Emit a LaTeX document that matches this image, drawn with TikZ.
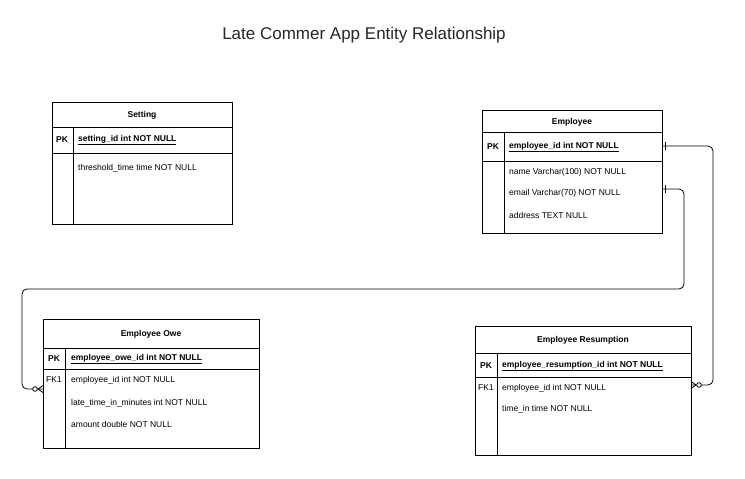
\documentclass[tikz,border=0pt]{standalone}
\usepackage{fontspec}
\setmainfont{Liberation Sans}
\usepackage{tikz}
\usetikzlibrary{calc}
\tikzset{
	entitybox/.style={draw, line width=0.9pt, anchor=north west, inner sep=0pt},
	tabletitle/.style={font=\fontsize{8.5}{10}\selectfont\bfseries},
	keylabel/.style={font=\fontsize{8.5}{10}\selectfont},
	field/.style={anchor=west, inner sep=0pt, font=\fontsize{8.5}{10}\selectfont},
	link/.style={line width=0.8pt, rounded corners=5pt}
}
\newcommand{\makeentity}[9]{
	\node[entitybox, minimum width={#4-#2}, minimum height={#5-#3}] (#1) at (#2,#3) {};
	\draw[line width=0.9pt] (#2,#6) -- (#4,#6);
	\draw[line width=0.9pt] (#2,#7) -- (#4,#7);
	\draw[line width=0.9pt] (#8,#6) -- (#8,#5);
	\node[tabletitle] (#1title) at ({(#2+#4)/2},{(#3+#6)/2+1}) {#9};
}
\newcommand{\makepk}[5]{
	\node[keylabel, font=\fontsize{8.5}{10}\selectfont\bfseries] (#1key) at (#2,#3) {PK};
	\node[field, font=\fontsize{8.5}{10}\selectfont\bfseries] (#1pk) at (#4,#3) {\underline{#5}};
}
\newcommand{\onemark}[1]{
	\draw[line width=0.8pt] ($(#1)+(3,-4)$) -- ($(#1)+(3,4)$);
}
\newcommand{\manyend}[2]{
	\draw[line width=0.8pt] ($(#1)+(#2*5,0)$) -- ($(#1)+(0,-3.5)$);
	\draw[line width=0.8pt] ($(#1)+(#2*5,0)$) -- ($(#1)+(0,3.5)$);
	\draw[line width=0.8pt, fill=white] ($(#1)+(#2*8,0)$) circle (2.3pt);
}

\begin{document}
\begin{tikzpicture}[x=1pt,y=-1pt]
	\useasboundingbox[fill=white] (0,0) rectangle (745,479);

	\node[font=\fontsize{17}{20}\selectfont, text=black!85] (title) at (364,35) {Late Commer App Entity Relationship};

	% tables
	\makeentity{setting}{52}{102}{232}{224}{127}{153}{73}{Setting}
	\makepk{setting}{62}{140}{78}{setting\_id int NOT NULL}
	\node[field] (threshold) at (78,168) {threshold\_time time NOT NULL};

	\makeentity{employee}{482}{110}{662}{233}{132}{161}{504}{Employee}
	\makepk{employee}{493}{147}{509}{employee\_id int NOT NULL}
	\node[field] (name) at (509,172) {name Varchar(100) NOT NULL};
	\node[field] (email) at (509,193) {email Varchar(70) NOT NULL};
	\node[field] (address) at (509,215) {address TEXT NULL};

	\makeentity{owe}{43}{319}{259}{448}{348}{369}{65}{Employee Owe}
	\makepk{owe}{54}{359}{71}{employee\_owe\_id int NOT NULL}
	\node[keylabel] (owefk) at (54,380) {FK1};
	\node[field] (oweemp) at (71,380) {employee\_id int NOT NULL};
	\node[field] (late) at (71,403) {late\_time\_in\_minutes int NOT NULL};
	\node[field] (amount) at (71,424) {amount double NOT NULL};

	\makeentity{resumption}{475}{326}{691}{455}{353}{377}{497}{Employee Resumption}
	\makepk{resumption}{486}{366}{502}{employee\_resumption\_id int NOT NULL}
	\node[keylabel] (resfk) at (486,388) {FK1};
	\node[field] (resemp) at (502,388) {employee\_id int NOT NULL};
	\node[field] (timein) at (502,409) {time\_in time NOT NULL};

	% relationships
	\coordinate (empPK) at (662,146);
	\coordinate (empEmail) at (662,189);
	\coordinate (oweLink) at (43,389);
	\coordinate (resLink) at (691,385);

	\draw[link] (empEmail) -- (684,189) -- (684,289) -- (22,289) -- (22,389) -- (oweLink);
	\draw[link] (empPK) -- (713,146) -- (713,385) -- (resLink);

	\onemark{empPK}
	\onemark{empEmail}
	\manyend{oweLink}{-1}
	\manyend{resLink}{1}
\end{tikzpicture}
\end{document}
